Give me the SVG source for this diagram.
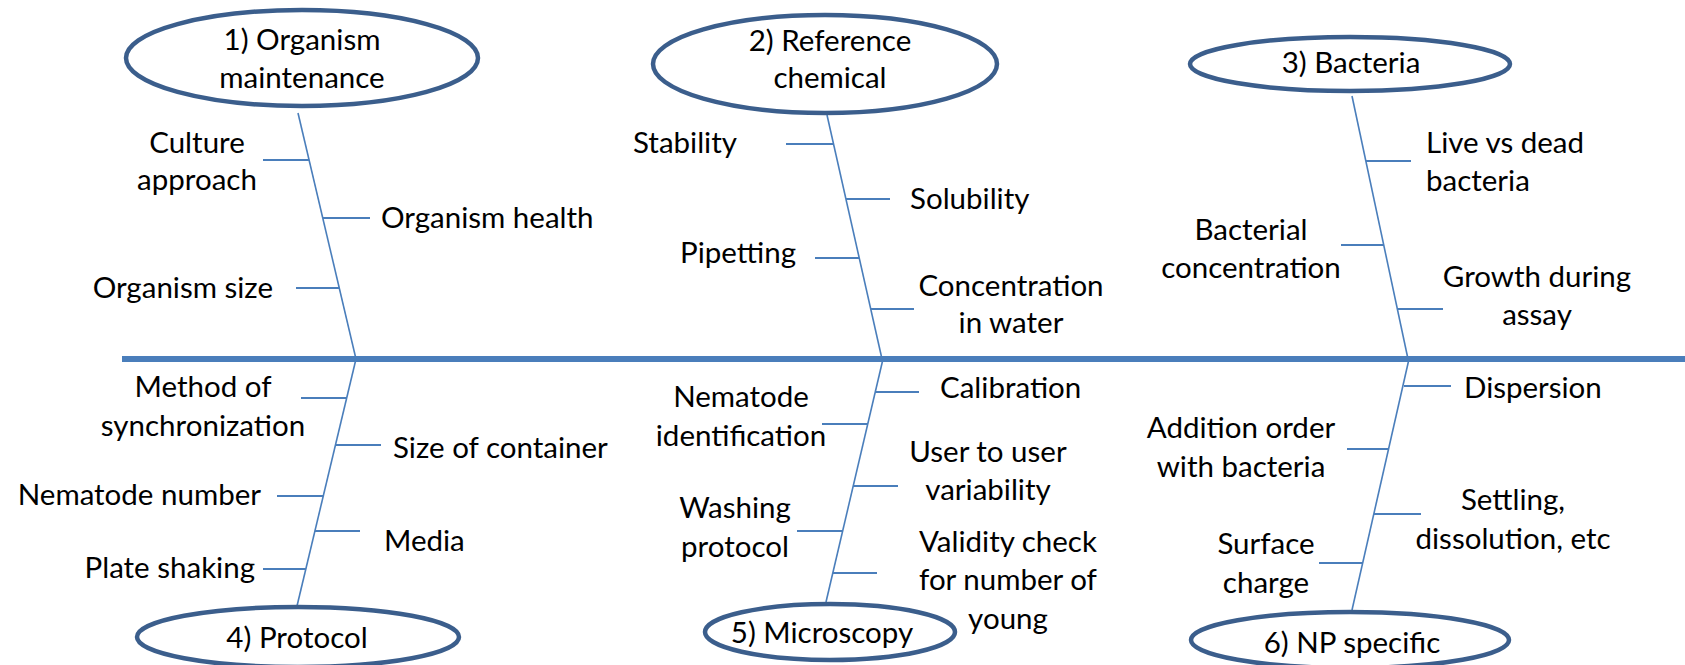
<svg xmlns="http://www.w3.org/2000/svg" width="1685" height="665" viewBox="0 0 1685 665">
<style>
text{font-family:Lato,"Open Sans","Liberation Sans",sans-serif;font-size:29.5px;fill:#000}
.m{text-anchor:middle}.e{text-anchor:end}
.oval{fill:#fff;stroke:#3B5E8C;stroke-width:4.5}
.spine{stroke:#4A7EBB;stroke-width:1.6;fill:none}
.tick{stroke:#4A7EBB;stroke-width:2.2}
.main{stroke:#4A7EBB;stroke-width:6}
</style>
<rect width="1685" height="665" fill="#fff"/>
<g id="connectors">
<line class="main" x1="122" y1="359" x2="1685" y2="359"/>
<line class="spine" x1="298" y1="113" x2="356" y2="359"/>
<line class="spine" x1="827" y1="115" x2="882" y2="359"/>
<line class="spine" x1="1352" y1="96" x2="1408" y2="359"/>
<line class="spine" x1="356" y1="359" x2="297" y2="606"/>
<line class="spine" x1="883" y1="359" x2="826" y2="602"/>
<line class="spine" x1="1409" y1="359" x2="1352" y2="610"/>
<line class="tick" x1="263" y1="160" x2="309" y2="160"/>
<line class="tick" x1="323" y1="218" x2="370" y2="218"/>
<line class="tick" x1="296" y1="288" x2="339" y2="288"/>
<line class="tick" x1="786" y1="144" x2="833.5" y2="144"/>
<line class="tick" x1="846" y1="199" x2="890" y2="199"/>
<line class="tick" x1="815" y1="258" x2="859" y2="258"/>
<line class="tick" x1="871" y1="309" x2="914" y2="309"/>
<line class="tick" x1="1366" y1="161" x2="1411" y2="161"/>
<line class="tick" x1="1341" y1="245" x2="1384" y2="245"/>
<line class="tick" x1="1397" y1="309" x2="1443" y2="309"/>
<line class="tick" x1="301" y1="398" x2="347" y2="398"/>
<line class="tick" x1="335.5" y1="445" x2="381" y2="445"/>
<line class="tick" x1="277" y1="496" x2="323" y2="496"/>
<line class="tick" x1="315" y1="531" x2="360" y2="531"/>
<line class="tick" x1="263" y1="569" x2="306" y2="569"/>
<line class="tick" x1="875" y1="392" x2="919" y2="392"/>
<line class="tick" x1="822" y1="424" x2="868" y2="424"/>
<line class="tick" x1="853" y1="486" x2="898" y2="486"/>
<line class="tick" x1="797" y1="531" x2="843" y2="531"/>
<line class="tick" x1="833" y1="573" x2="877" y2="573"/>
<line class="tick" x1="1404" y1="386" x2="1451" y2="386"/>
<line class="tick" x1="1347" y1="449" x2="1389" y2="449"/>
<line class="tick" x1="1374" y1="514" x2="1421" y2="514"/>
<line class="tick" x1="1319" y1="563" x2="1363" y2="563"/>
</g>
<g id="node1">
<ellipse class="oval" cx="302" cy="58" rx="176" ry="48"/>
<text class="m" x="302" y="50">1) Organism</text>
<text class="m" x="302" y="88">maintenance</text>
</g>
<g id="node2">
<ellipse class="oval" cx="825" cy="64" rx="172" ry="49"/>
<text class="m" x="830" y="51">2) Reference</text>
<text class="m" x="830" y="88">chemical</text>
</g>
<g id="node3">
<ellipse class="oval" cx="1350" cy="64" rx="160" ry="27"/>
<text class="m" x="1351" y="73">3) Bacteria</text>
</g>
<g id="node4">
<ellipse class="oval" cx="298" cy="637" rx="161" ry="30"/>
<text class="m" x="297" y="648">4) Protocol</text>
</g>
<g id="node5">
<ellipse class="oval" cx="830" cy="632" rx="125" ry="28"/>
<text class="m" x="822" y="643">5) Microscopy</text>
</g>
<g id="node6">
<ellipse class="oval" cx="1350" cy="640" rx="159" ry="28"/>
<text class="m" x="1352" y="653">6) NP specific</text>
</g>
<g id="labels1">
<text class="m" x="197" y="153">Culture</text>
<text class="m" x="197" y="190">approach</text>
<text x="381" y="228">Organism health</text>
<text class="e" x="273" y="298">Organism size</text>
</g>
<g id="labels2">
<text class="e" x="737" y="153">Stability</text>
<text x="910" y="209">Solubility</text>
<text class="e" x="796" y="263">Pipetting</text>
<text class="m" x="1011" y="296">Concentration</text>
<text class="m" x="1011" y="333">in water</text>
</g>
<g id="labels3">
<text x="1426" y="153">Live vs dead</text>
<text x="1426" y="191">bacteria</text>
<text class="m" x="1251" y="240">Bacterial</text>
<text class="m" x="1251" y="278">concentration</text>
<text class="m" x="1537" y="287">Growth during</text>
<text class="m" x="1537" y="325">assay</text>
</g>
<g id="labels4">
<text class="m" x="203" y="397">Method of</text>
<text class="m" x="203" y="436">synchronization</text>
<text x="393" y="458">Size of container</text>
<text class="e" x="261" y="505">Nematode number</text>
<text x="384" y="551">Media</text>
<text class="e" x="255" y="578">Plate shaking</text>
</g>
<g id="labels5">
<text x="940" y="398">Calibration</text>
<text class="m" x="741" y="407">Nematode</text>
<text class="m" x="741" y="446">identification</text>
<text class="m" x="988" y="462">User to user</text>
<text class="m" x="988" y="500">variability</text>
<text class="m" x="735" y="518">Washing</text>
<text class="m" x="735" y="557">protocol</text>
<text class="m" x="1008" y="552">Validity check</text>
<text class="m" x="1008" y="590">for number of</text>
<text class="m" x="1008" y="629">young</text>
</g>
<g id="labels6">
<text x="1464" y="398">Dispersion</text>
<text class="m" x="1241" y="438">Addition order</text>
<text class="m" x="1241" y="477">with bacteria</text>
<text class="m" x="1513" y="510">Settling,</text>
<text class="m" x="1513" y="549">dissolution, etc</text>
<text class="m" x="1266" y="554">Surface</text>
<text class="m" x="1266" y="593">charge</text>
</g>
</svg>
